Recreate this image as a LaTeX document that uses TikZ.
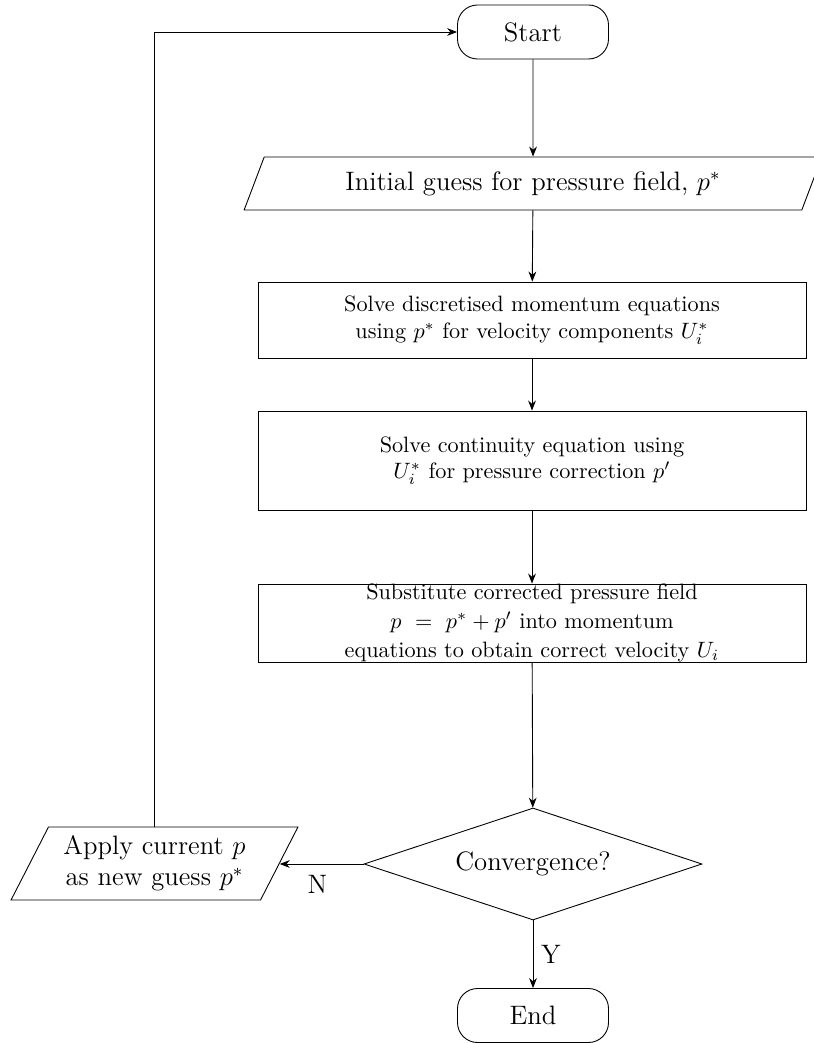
\documentclass[tikz,border=0pt]{standalone}
\usetikzlibrary{shapes.geometric,arrows.meta}
\begin{document}
\begin{tikzpicture}[x=0.45pt,y=-0.45pt,
  term/.style={draw, rectangle, rounded corners=9pt, minimum width={151*0.45pt}, minimum height={54*0.45pt}, inner sep=0pt, font=\large},
  io/.style={draw, trapezium, trapezium left angle=60, trapezium right angle=120, trapezium stretches=true, align=center, inner sep=0pt, font=\large},
  proc/.style={draw, rectangle, minimum width={548*0.45pt}, align=center, inner sep=0pt},
  dec/.style={draw, diamond, shape aspect=3, minimum width={338*0.45pt}, minimum height={112*0.45pt}, inner sep=0pt, font=\large},
  arr/.style={-{Stealth[length=4.5pt,width=3.5pt]}},
  lbl/.style={inner sep=0pt, font=\large}
]
\useasboundingbox (0,0) rectangle (813,1043);
\node[term] (start) at (533,32) {Start};
\node[io, minimum width={578*0.45pt}, minimum height={53*0.45pt}] (init) at (533,183.5) {Initial guess for pressure field, $p^*$};
\node[proc, minimum height={76*0.45pt}] (b1) at (532,320) {Solve discretised momentum equations\\ using $p^*$ for velocity components $U_i^*$};
\node[proc, minimum height={99*0.45pt}] (b2) at (532,460.5) {Solve continuity equation using\\ $U_i^*$ for pressure correction $p'$};
\node[proc, minimum height={78*0.45pt}] (b3) at (532,623) {Substitute corrected pressure field\\[1pt] $p\ =\ p^* + p'$ into momentum\\[1pt] equations to obtain correct velocity $U_i$};
\node[dec] (conv) at (533,864) {Convergence?};
\node[io, minimum width={287*0.45pt}, minimum height={73*0.45pt}] (apply) at (154.5,863.5) {Apply current $p$\\ as new guess $p^*$};
\node[term] (end) at (533,1015.5) {End};
\draw[arr] (start) -- (init);
\draw[arr] (init) -- (b1);
\draw[arr] (b1) -- (b2);
\draw[arr] (b2) -- (b3);
\draw[arr] (b3) -- (conv);
\draw[arr] (conv.west) -- (conv.west -| apply.east) node[lbl, pos=0.55, below=5pt] (N) {N};
\draw[arr] (conv.south) -- (end.north) node[lbl, pos=0.5, right=3.5pt] (Y) {Y};
\draw[arr] (apply.north) |- (start.west);
\end{tikzpicture}
\end{document}
